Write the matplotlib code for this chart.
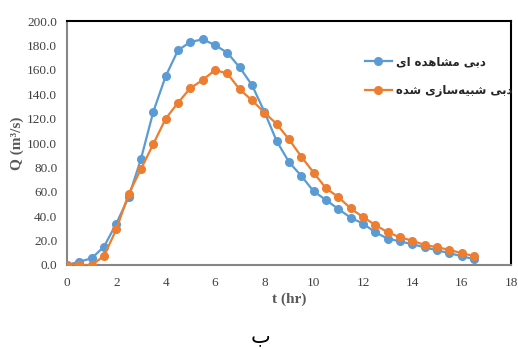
import numpy as np
import matplotlib.pyplot as plt

# زمان (ساعت) و دبی ها
t = [0, 0.5, 1, 1.5, 2, 2.5, 3, 3.5, 4, 4.5, 5, 5.5, 6, 6.5, 7, 7.5, 8, 8.5,
     9, 9.5, 10, 10.5, 11, 11.5, 12, 12.5, 13, 13.5, 14, 14.5, 15, 15.5, 16, 16.5]
q_obs = [0, 2.7, 5.5, 15, 34, 55.5, 87, 125.7, 154.7, 176, 182.8, 185, 180.3, 174,
         162, 147.5, 125.7, 101.6, 84.4, 73, 60.4, 53.3, 45.9, 38.8, 33.9, 26.8,
         21.6, 19.4, 17, 14.5, 12, 9.8, 7.1, 4.9]
q_sim = [0, 0, 0, 7.4, 29.2, 58.2, 78.7, 99.2, 119.9, 133, 145, 151.6, 159.8, 157,
         144, 135, 125, 115.6, 103, 88.8, 75.7, 62.9, 55.7, 46.4, 39.3, 32.8,
         26.8, 22.7, 19.9, 16.4, 14.5, 12.5, 9.6, 7.4]

labels = ["دبی مشاهده ای", "دبی شبیه\u200cسازی شده"]
caption = "ب"
xticks = np.arange(0, 19, 2)
yticks = np.arange(0, 201, 20)

# شکل‌دهی ساده حروف فارسی (matplotlib خودش حروف را به هم وصل نمی‌کند)
# (isolated, final, initial, medial)
FORMS = {
    0x627: (0xFE8D, 0xFE8E, None, None),    # alef
    0x62F: (0xFEA9, 0xFEAA, None, None),    # dal
    0x632: (0xFEAF, 0xFEB0, None, None),    # zain
    0x628: (0xFE8F, 0xFE90, 0xFE91, 0xFE92),  # beh
    0x633: (0xFEB1, 0xFEB2, 0xFEB3, 0xFEB4),  # seen
    0x634: (0xFEB5, 0xFEB6, 0xFEB7, 0xFEB8),  # sheen
    0x645: (0xFEE1, 0xFEE2, 0xFEE3, 0xFEE4),  # meem
    0x647: (0xFEE9, 0xFEEA, 0xFEEB, 0xFEEC),  # heh
    0x6CC: (0xFBFC, 0xFBFD, 0xFBFE, 0xFBFF),  # farsi yeh
    0x64A: (0xFBFC, 0xFBFD, 0xFBFE, 0xFBFF),
}


def shape(s):
    cps = [ord(c) for c in s]
    out = []
    for i, c in enumerate(cps):
        if c not in FORMS:
            if c != 0x200C:
                out.append(chr(c))
            continue
        f = FORMS[c]
        prev = cps[i - 1] if i > 0 else None
        nxt = cps[i + 1] if i + 1 < len(cps) else None
        jp = prev in FORMS and FORMS[prev][2] is not None
        jn = f[2] is not None and nxt in FORMS
        if jp and jn:
            code = f[3]
        elif jp:
            code = f[1]
        elif jn:
            code = f[2]
        else:
            code = f[0]
        out.append(chr(code))
    return "".join(out[::-1])


plt.rcParams['font.family'] = ['Liberation Serif', 'DejaVu Sans']

fig = plt.figure(figsize=(5.18, 3.49), dpi=100)
ax = fig.add_axes([0.1293, 0.2407, 0.8572, 0.6991])

ax.plot(t, q_obs, '-o', color='#5B9BD5', lw=1.6, ms=5.5, label=shape(labels[0]), zorder=3)
ax.plot(t, q_sim, '-o', color='#ED7D31', lw=1.6, ms=5.5, label=shape(labels[1]), zorder=4)

ax.set_xlim(0, 18)
ax.set_ylim(0, 200)
ax.set_xticks(xticks)
ax.set_yticks(yticks)
ax.set_yticklabels(["%.1f" % v for v in yticks])
ax.tick_params(length=0, labelsize=9.5, labelcolor='#404040')
ax.tick_params(axis='x', pad=9)
ax.tick_params(axis='y', pad=7)

for s in ['left', 'bottom']:
    ax.spines[s].set_color('#868686')
    ax.spines[s].set_linewidth(1.5)
for s in ['top', 'right']:
    ax.spines[s].set_color('black')
    ax.spines[s].set_linewidth(1.5)

ax.set_xlabel("t (hr)", fontsize=11, fontweight='bold', color='#595959', labelpad=2)
ax.set_ylabel("Q (m³/s)", fontsize=11, fontweight='bold', color='#595959', labelpad=2)

leg = ax.legend(loc='upper left', bbox_to_anchor=(0.66, 0.88), frameon=False,
                prop={'family': 'DejaVu Sans', 'size': 8.4, 'weight': 'bold'},
                handlelength=2.3, handletextpad=0.35, labelspacing=1.35, borderaxespad=0)
for txt in leg.get_texts():
    txt.set_color('#262626')

fig.text(0.503, 0.02, shape(caption), fontsize=15, family='DejaVu Sans',
         ha='center', va='baseline', color='black')

fig.savefig('out.png', dpi=100)
